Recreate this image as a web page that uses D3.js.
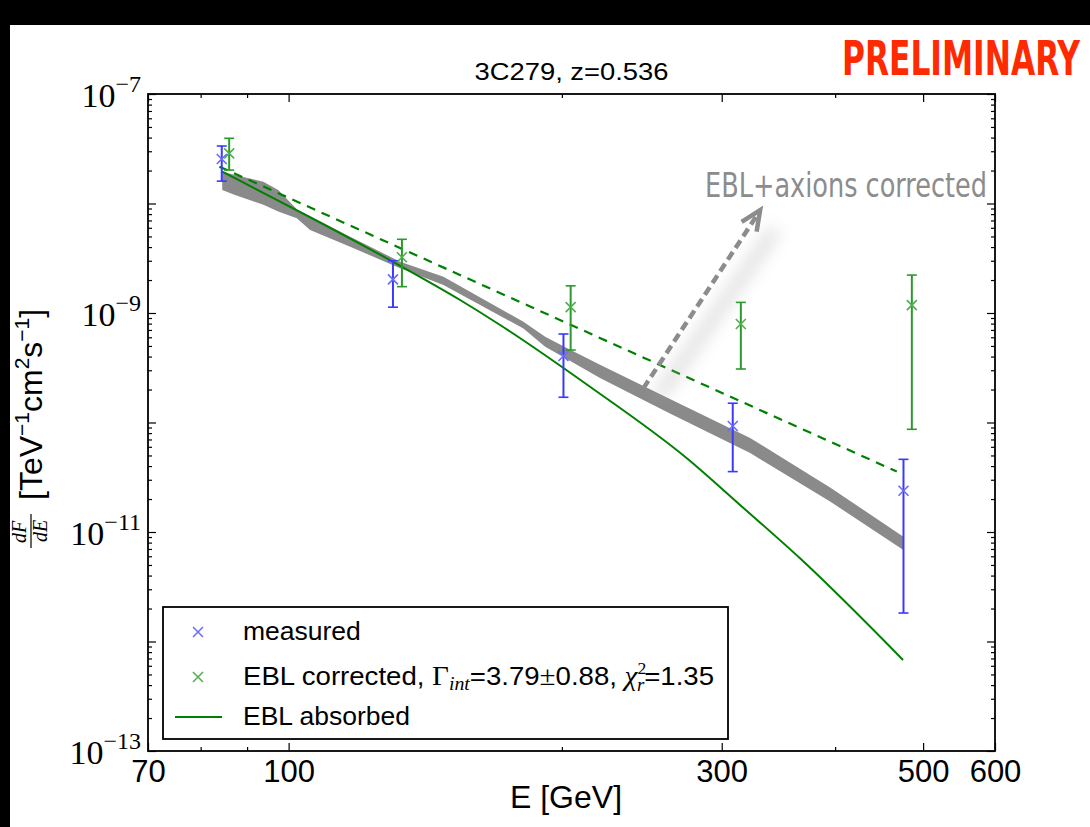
<!DOCTYPE html>
<html>
<head>
<meta charset="utf-8">
<script src="https://cdn.jsdelivr.net/npm/d3@7/dist/d3.min.js"></script>
<style>
html,body{margin:0;padding:0;background:#000;}
svg{display:block;}
</style>
</head>
<body>
<svg id="chart" width="1090" height="827"></svg>
<script>
// ---------------- DATA ----------------
const title = "3C279, z=0.536";
const xTickLabels = [70, 100, 300, 500, 600];
const xMinorTicks = [80, 90, 200, 400];
const yLabelExps = [-7, -9, -11, -13];
const yMajorExps = [-7, -8, -9, -10, -11, -12, -13];

// measured (blue)
const E_meas = [84.4, 130.3, 200.8, 308.5, 475.7];
const F_meas = [2.55e-8, 2.03e-9, 4.05e-10, 9.29e-11, 2.38e-11];
const F_meas_hi = [3.35e-8, 3.0e-9, 6.43e-10, 1.5e-10, 4.61e-11];
const F_meas_lo = [1.6e-8, 1.13e-9, 1.70e-10, 3.56e-11, 1.82e-12];

// EBL corrected (green)
const E_corr = [86.0, 133.3, 204.5, 314.9, 485.9];
const F_corr = [2.87e-8, 3.23e-9, 1.13e-9, 7.94e-10, 1.18e-9];
const F_corr_hi = [3.94e-8, 4.71e-9, 1.77e-9, 1.25e-9, 2.22e-9];
const F_corr_lo = [2.02e-8, 1.74e-9, 4.59e-10, 3.08e-10, 8.67e-11];

// power-law fit to EBL corrected (dashed)
const E_fit = [83.9, 467.7];
const F_fit = [2.17e-8, 3.56e-11];

// EBL absorbed curve (solid green)
const E_abs = [84.5, 132.7, 154.5, 171.0, 214.8, 274.6, 314.3, 365.9, 475.2];
const F_abs = [1.952e-8, 2.70e-9, 1.314e-9, 7.77e-10, 2.12e-10, 4.71e-11, 1.764e-11, 5.75e-12, 6.78e-13];

// EBL + axions band (gray)
const E_band = [84.5, 87.3, 93.8, 97.4, 102.1, 105.6, 116.9, 132.7, 148.1, 181.4, 191.7, 202.5, 220.3, 263.1, 322.4, 394.9, 475.6];
const F_band_hi = [1.952e-8, 1.82e-8, 1.581e-8, 1.328e-8, 8.85e-9, 7.7e-9, 4.975e-9, 2.94e-9, 2.145e-9, 8.33e-10, 6.08e-10, 4.80e-10, 3.37e-10, 1.64e-10, 7.22e-11, 2.55e-11, 9.06e-12];
const F_band_lo = [1.328e-8, 1.198e-8, 9.73e-9, 8.47e-9, 7.32e-9, 5.73e-9, 4.03e-9, 2.56e-9, 1.80e-9, 7.22e-10, 4.92e-10, 3.80e-10, 2.55e-10, 1.21e-10, 5.27e-11, 1.90e-11, 6.85e-12];

// annotation arrow (tail -> tip) in data units
const arrowE = [245.9, 330.7];
const arrowF = [2.05e-10, 8.72e-9];

// ---------------- LAYOUT ----------------
const svg = d3.select("#chart");
const L = 148, R = 995, T = 94, B = 751;

svg.append("rect").attr("x", 10).attr("y", 25).attr("width", 1080).attr("height", 802).attr("fill", "#fff");

const x = d3.scaleLog().domain([70, 600]).range([L, R]);
const y = d3.scaleLog().domain([1e-13, 1e-7]).range([B, T]);

const defs = svg.append("defs");
defs.append("clipPath").attr("id", "plotclip").append("rect")
  .attr("x", L).attr("y", T).attr("width", R - L).attr("height", B - T);
const blur = defs.append("filter").attr("id", "shadowblur")
  .attr("x", "-50%").attr("y", "-50%").attr("width", "200%").attr("height", "200%");
blur.append("feGaussianBlur").attr("stdDeviation", 8);

const plot = svg.append("g").attr("clip-path", "url(#plotclip)");

// gray band
const bandData = E_band.map((e, i) => ({e, lo: F_band_lo[i], hi: F_band_hi[i]}));
plot.append("path").datum(bandData)
  .attr("fill", "#8a8a8a")
  .attr("d", d3.area().x(d => x(d.e)).y0(d => y(d.lo)).y1(d => y(d.hi)));

// EBL absorbed
const absData = E_abs.map((e, i) => ({e, f: F_abs[i]}));
plot.append("path").datum(absData)
  .attr("fill", "none").attr("stroke", "#008000").attr("stroke-width", 2)
  .attr("d", d3.line().x(d => x(d.e)).y(d => y(d.f)).curve(d3.curveMonotoneX));

// fit dashed
const fitData = E_fit.map((e, i) => ({e, f: F_fit[i]}));
plot.append("path").datum(fitData)
  .attr("fill", "none").attr("stroke", "#008000").attr("stroke-width", 2.2)
  .attr("stroke-dasharray", "9,7")
  .attr("d", d3.line().x(d => x(d.e)).y(d => y(d.f)));

// error bars + markers
function drawSeries(E, F, Fhi, Flo, barColor, markColor) {
  const g = plot.append("g");
  E.forEach((e, i) => {
    const cx = x(e);
    g.append("line").attr("x1", cx).attr("x2", cx).attr("y1", y(Fhi[i])).attr("y2", y(Flo[i]))
      .attr("stroke", barColor).attr("stroke-width", 2);
    [Fhi[i], Flo[i]].forEach(v => {
      g.append("line").attr("x1", cx - 5).attr("x2", cx + 5).attr("y1", y(v)).attr("y2", y(v))
        .attr("stroke", barColor).attr("stroke-width", 1.6);
    });
    const cy = y(F[i]), s = 5;
    g.append("path").attr("d", `M${cx - s},${cy - s}L${cx + s},${cy + s}M${cx - s},${cy + s}L${cx + s},${cy - s}`)
      .attr("stroke", markColor).attr("stroke-width", 1.6).attr("fill", "none");
  });
}
drawSeries(E_meas, F_meas, F_meas_hi, F_meas_lo, "#3a3aff", "#6a6aff");
drawSeries(E_corr, F_corr, F_corr_hi, F_corr_lo, "#2c992c", "#4fae4f");

// annotation arrow with soft shadow
const ax0 = x(arrowE[0]), ay0 = y(arrowF[0]), ax1 = x(arrowE[1]), ay1 = y(arrowF[1]);
svg.append("line").attr("x1", ax0 + 18).attr("y1", ay0 + 4).attr("x2", ax1 + 12).attr("y2", ay1 + 24)
  .attr("stroke", "#a0a0a0").attr("stroke-width", 14).attr("opacity", 0.3)
  .attr("stroke-linecap", "round").attr("filter", "url(#shadowblur)");
svg.append("line").attr("x1", ax0).attr("y1", ay0).attr("x2", ax1 - 3).attr("y2", ay1 + 5)
  .attr("stroke", "#8c8c8c").attr("stroke-width", 4.5).attr("stroke-dasharray", "9,5");
{
  const ang = Math.atan2(ay0 - ay1, ax0 - ax1);
  const len = 22, spread = 24 * Math.PI / 180;
  const p1 = [ax1 + len * Math.cos(ang - spread), ay1 + len * Math.sin(ang - spread)];
  const p2 = [ax1 + len * Math.cos(ang + spread), ay1 + len * Math.sin(ang + spread)];
  svg.append("path").attr("d", `M${p1[0]},${p1[1]}L${ax1},${ay1}L${p2[0]},${p2[1]}`)
    .attr("fill", "none").attr("stroke", "#8c8c8c").attr("stroke-width", 4.5)
    .attr("stroke-linejoin", "miter");
}
svg.append("text").attr("x", 705).attr("y", 197)
  .attr("font-family", "'Liberation Sans Narrow','DejaVu Sans Condensed',sans-serif")
  .attr("font-size", 33).attr("fill", "#8c8c8c")
  .attr("textLength", 282).attr("lengthAdjust", "spacingAndGlyphs")
  .text("EBL+axions corrected");

// ---------------- AXES ----------------
const frame = svg.append("g");
function tickAxis(axisFn, tr, values, size) {
  const a = axisFn.tickValues(values).tickSizeInner(-size).tickSizeOuter(0).tickFormat("");
  const g = frame.append("g").attr("transform", tr).call(a);
  g.select(".domain").remove();
  g.selectAll(".tick line").attr("stroke", "#000").attr("stroke-width", 1.2);
  return g;
}
const yMajorVals = yMajorExps.map(e => Math.pow(10, e));
const yMinorVals = [];
for (let e = -13; e < -7; e++) for (let k = 2; k <= 9; k++) yMinorVals.push(k * Math.pow(10, e));

tickAxis(d3.axisLeft(y), `translate(${L},0)`, yMajorVals, 8);
tickAxis(d3.axisLeft(y), `translate(${L},0)`, yMinorVals, 4);
tickAxis(d3.axisRight(y), `translate(${R},0)`, yMajorVals, 8);
tickAxis(d3.axisRight(y), `translate(${R},0)`, yMinorVals, 4);
tickAxis(d3.axisBottom(x), `translate(0,${B})`, xTickLabels, 8);
tickAxis(d3.axisBottom(x), `translate(0,${B})`, xMinorTicks, 4);
tickAxis(d3.axisTop(x), `translate(0,${T})`, xTickLabels, 8);
tickAxis(d3.axisTop(x), `translate(0,${T})`, xMinorTicks, 4);

frame.append("rect").attr("x", L).attr("y", T).attr("width", R - L).attr("height", B - T)
  .attr("fill", "none").attr("stroke", "#000").attr("stroke-width", 1.8);

// x tick labels
const xl = d3.axisBottom(x).tickValues(xTickLabels).tickSize(0).tickPadding(9).tickFormat(d3.format("d"));
const xlg = svg.append("g").attr("transform", `translate(0,${B})`).call(xl);
xlg.select(".domain").remove();
xlg.selectAll("text").attr("font-family", "'Liberation Sans',Arial,sans-serif").attr("font-size", 31).attr("fill", "#000");

// y tick labels (mathtext style)
yLabelExps.forEach(e => {
  const t = svg.append("text").attr("x", 141).attr("y", y(Math.pow(10, e)) + 13)
    .attr("text-anchor", "end").attr("font-family", "'Liberation Serif','DejaVu Serif',serif")
    .attr("font-size", 34).attr("fill", "#000");
  t.append("tspan").text("10");
  t.append("tspan").attr("font-size", 24).attr("dy", -15).text("\u2212" + Math.abs(e));
});

// title
svg.append("text").attr("x", (L + R) / 2).attr("y", 80).attr("text-anchor", "middle")
  .attr("font-family", "'Liberation Sans',Arial,sans-serif").attr("font-size", 24)
  .attr("textLength", 194).attr("lengthAdjust", "spacingAndGlyphs")
  .attr("fill", "#000").text(title);

// PRELIMINARY
svg.append("text").attr("x", 842).attr("y", 75)
  .attr("font-family", "'Liberation Sans Narrow','DejaVu Sans Condensed',sans-serif")
  .attr("font-weight", "bold").attr("font-size", 48).attr("fill", "#ff2a00")
  .attr("textLength", 238).attr("lengthAdjust", "spacingAndGlyphs")
  .text("PRELIMINARY");

// x label
svg.append("text").attr("x", 566).attr("y", 808).attr("text-anchor", "middle")
  .attr("font-family", "'Liberation Sans',Arial,sans-serif").attr("font-size", 32)
  .attr("fill", "#000").text("E [GeV]");

// y label
const yl = svg.append("g").attr("transform", "translate(31,556) rotate(-90)");
yl.append("text").attr("x", 24).attr("y", -5).attr("text-anchor", "middle")
  .attr("font-family", "'Liberation Serif','DejaVu Serif',serif").attr("font-style", "italic")
  .attr("font-size", 20).text("dF");
yl.append("line").attr("x1", 8).attr("x2", 42).attr("y1", 0).attr("y2", 0).attr("stroke", "#000").attr("stroke-width", 1.2);
yl.append("text").attr("x", 25).attr("y", 16).attr("text-anchor", "middle")
  .attr("font-family", "'Liberation Serif','DejaVu Serif',serif").attr("font-style", "italic")
  .attr("font-size", 20).text("dE");
const ylt = yl.append("text").attr("x", 56).attr("y", 11)
  .attr("font-family", "'Liberation Sans',Arial,sans-serif").attr("font-size", 32).attr("fill", "#000");
ylt.append("tspan").text("[TeV");
ylt.append("tspan").attr("font-size", 21).attr("dy", -13).text("\u22121");
ylt.append("tspan").attr("dy", 13).text("cm");
ylt.append("tspan").attr("font-size", 21).attr("dy", -13).text("2");
ylt.append("tspan").attr("dy", 13).text("s");
ylt.append("tspan").attr("font-size", 21).attr("dy", -13).text("\u22121");
ylt.append("tspan").attr("dy", 13).text("]");

// ---------------- LEGEND ----------------
const lg = svg.append("g");
lg.append("rect").attr("x", 163).attr("y", 607).attr("width", 565).attr("height", 132)
  .attr("fill", "#fff").attr("stroke", "#000").attr("stroke-width", 1.8);
function legendX(cx, cy, col) {
  const s = 5;
  lg.append("path").attr("d", `M${cx - s},${cy - s}L${cx + s},${cy + s}M${cx - s},${cy + s}L${cx + s},${cy - s}`)
    .attr("stroke", col).attr("stroke-width", 1.5);
}
legendX(198, 632, "#6a6aff");
legendX(198, 677, "#4fae4f");
lg.append("line").attr("x1", 175).attr("x2", 222).attr("y1", 717).attr("y2", 717)
  .attr("stroke", "#008000").attr("stroke-width", 2);
const sans = "'Liberation Sans',Arial,sans-serif", serif = "'Liberation Serif','DejaVu Serif',serif";
lg.append("text").attr("x", 243).attr("y", 640).attr("font-family", sans).attr("font-size", 26.5).text("measured");
const t2 = lg.append("text").attr("x", 243).attr("y", 685).attr("font-family", sans).attr("font-size", 26.5)
  .attr("textLength", 471).attr("lengthAdjust", "spacingAndGlyphs");
t2.append("tspan").text("EBL corrected, ");
t2.append("tspan").attr("font-family", serif).attr("font-size", 28).text("\u0393");
t2.append("tspan").attr("font-family", serif).attr("font-style", "italic").attr("font-size", 19).attr("dy", 5).text("int");
t2.append("tspan").attr("dy", -5).text("=3.79");
t2.append("tspan").attr("font-family", serif).attr("font-size", 28).text("\u00b1");
t2.append("tspan").text("0.88, ");
t2.append("tspan").attr("font-family", serif).attr("font-style", "italic").attr("font-size", 28).text("\u03c7");
t2.append("tspan").attr("font-family", serif).attr("font-size", 17).attr("dy", -11).text("2");
t2.append("tspan").attr("font-family", serif).attr("font-style", "italic").attr("font-size", 18).attr("dx", -9).attr("dy", 17).text("r");
t2.append("tspan").attr("dy", -6).text("=1.35");
lg.append("text").attr("x", 243).attr("y", 725).attr("font-family", sans).attr("font-size", 26.5).text("EBL absorbed");
</script>
</body>
</html>
